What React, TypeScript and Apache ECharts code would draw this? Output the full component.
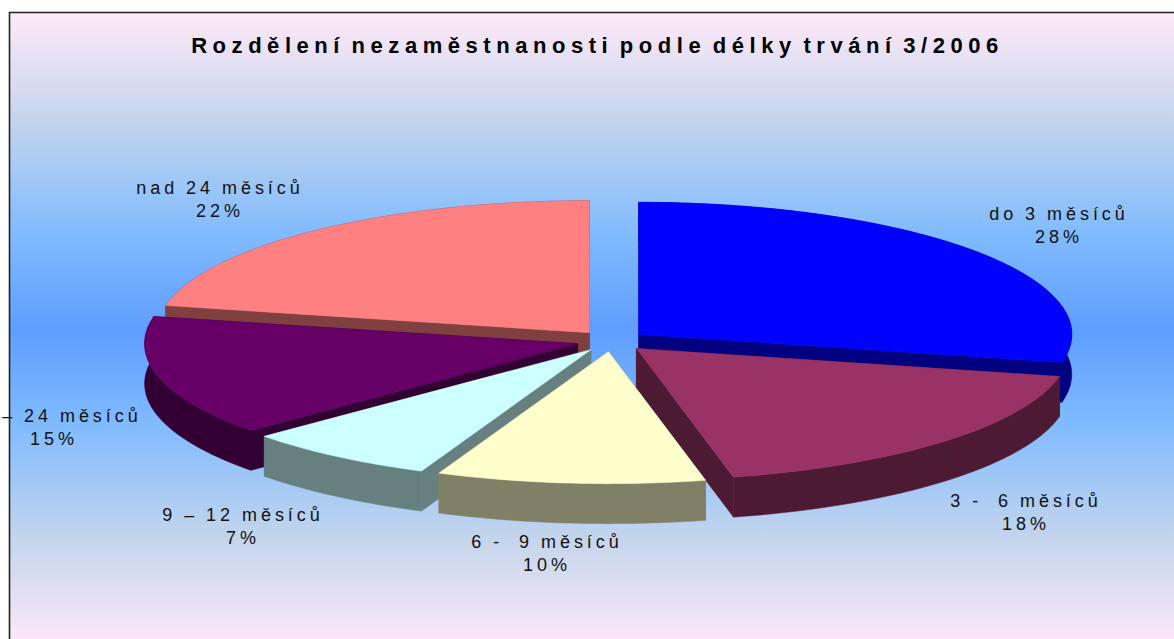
import React, { useEffect, useRef } from "react";
import * as echarts from "echarts";

const titleText = "Rozdělení nezaměstnanosti podle délky trvání 3/2006";
const categories = ["do 3 měsíců", "3 -  6 měsíců", "6 -  9 měsíců", "9 – 12 měsíců", "15 – 24 měsíců", "nad 24 měsíců"];
const values = [28.4, 18.0, 10.0, 7.2, 14.7, 21.7];
const topColors = ["#0000ff", "#993366", "#ffffcc", "#ccffff", "#660066", "#ff8080"];
const sideColors = ["#000080", "#4d1a33", "#808066", "#668080", "#330033", "#804040"];

// painter's order, back to front
const drawOrder = [5, 0, 4, 1, 3, 2];
// layout
const CX = 611.5, CY = 341, RX = 433, RY = 132, DEPTH = 40, EXPLODE = 35;
const labelCenters = [[1059, 225], [1026, 512], [547, 553], [243, 526], [54, 427], [220, 199]];

const total = values.reduce((a, b) => a + b, 0);
const starts: number[] = [];
values.reduce((acc, v, i) => { starts[i] = acc; return acc + v; }, 0);

function renderItem(params: any, api: any) {
  const i = api.value(0);
  const a0 = (starts[i] / total) * Math.PI * 2;
  const a1 = ((starts[i] + values[i]) / total) * Math.PI * 2;
  const mid = (a0 + a1) / 2;
  const ax = CX + EXPLODE * Math.sin(mid);
  const ay = CY - EXPLODE * (RY / RX) * Math.cos(mid);
  const pt = (a: number) => [ax + RX * Math.sin(a), ay - RY * Math.cos(a)];
  const arc: number[][] = [];
  const n = Math.max(12, Math.round((a1 - a0) * 60));
  for (let k = 0; k <= n; k++) arc.push(pt(a0 + ((a1 - a0) * k) / n));
  const down = (p: number[]) => [p[0], p[1] + DEPTH];
  const side = sideColors[i];
  const top = topColors[i];
  const poly = (points: number[][], fill: string) => ({
    type: "polygon",
    shape: { points },
    style: { fill, stroke: fill, lineWidth: 0.5 },
  });
  const first = arc[0];
  const last = arc[arc.length - 1];
  const apex = [ax, ay];
  const children: any[] = [
    poly([apex, first, down(first), down(apex)], side),
    poly([apex, last, down(last), down(apex)], side),
    poly([...arc, ...arc.slice().reverse().map(down)], side),
    poly([apex, ...arc], top),
  ];
  return { type: "group", children };
}

const labelGraphics = categories.map((c, i) => ({
  type: "text",
  x: labelCenters[i][0],
  y: labelCenters[i][1],
  z: 10,
  style: {
    text: `${c}\n${Math.round((values[i] / total) * 100)}%`,
    fill: "#111111",
    font: "18px 'Liberation Sans', Arial, sans-serif",
    lineHeight: 23,
    align: "center",
    verticalAlign: "middle",
  },
}));

export default function App() {
  const ref = useRef<HTMLDivElement>(null);
  useEffect(() => {
    document.body.style.margin = "0";
    const chart = echarts.init(ref.current!, null, { renderer: "svg" });
    chart.setOption({
      animation: false,
      backgroundColor: "#ffffff",
      title: {
        text: titleText,
        left: 592.5,
        top: 29,
        textAlign: "center",
        textStyle: { fontFamily: "'Liberation Sans', Arial, sans-serif", fontWeight: "bold", fontSize: 22, color: "#000000" },
      },
      graphic: [
        {
          type: "rect",
          z: -10,
          shape: { x: 9.5, y: 12.5, width: 1300, height: 634 },
          style: {
            stroke: "#222222",
            lineWidth: 1.6,
            fill: {
              type: "linear", x: 0, y: 0, x2: 0, y2: 1,
              colorStops: [
                { offset: 0, color: "#ffe9f9" },
                { offset: 0.17, color: "#c4d5ec" },
                { offset: 0.35, color: "#80bbff" },
                { offset: 0.5, color: "#5f9dff" },
                { offset: 0.65, color: "#80bbff" },
                { offset: 0.83, color: "#c4d5ec" },
                { offset: 1, color: "#ffe9f9" },
              ],
            },
          },
        },
        ...labelGraphics,
      ],
      series: [
        {
          type: "custom",
          coordinateSystem: "none",
          silent: true,
          renderItem,
          data: drawOrder.map((i) => [i]),
        },
      ],
    });
    return () => chart.dispose();
  }, []);
  return (
    <>
      <style>{`#pie text{letter-spacing:3.95px;word-spacing:-1px} #pie text[style*="bold"]{letter-spacing:5.54px;word-spacing:-5px}`}</style>
      <div id="pie" ref={ref} style={{ width: 1174, height: 639, overflow: "hidden" }} />
    </>
  );
}
